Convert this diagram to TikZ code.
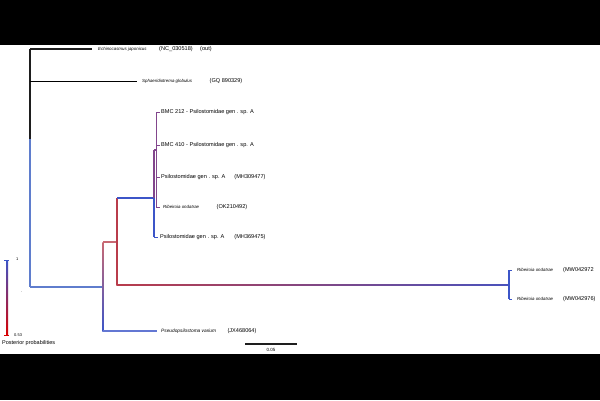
\documentclass[tikz,border=0pt]{standalone}
\usepackage{fontspec}
\setmainfont{Liberation Sans}
\usetikzlibrary{calc}
\definecolor{rootblue}{RGB}{95,125,205}
\definecolor{tblue}{RGB}{60,85,200}
\definecolor{tred}{RGB}{185,60,75}
\definecolor{tpink}{RGB}{200,105,115}
\definecolor{tpurple}{RGB}{130,70,140}
\definecolor{tblack}{RGB}{30,30,30}
\begin{document}
\begin{tikzpicture}[x=1pt,y=-1pt,
  br/.style={line width=1.2pt},
  tick/.style={line width=0.8pt},
  lab/.style={anchor=west,inner sep=0pt,font=\fontsize{5.6}{6}\selectfont},
  acc/.style={anchor=center,inner sep=0pt,font=\fontsize{5.6}{6}\selectfont},
  itl/.style={lab,font=\fontsize{4.4}{6}\selectfont\itshape},
  band/.style={fill=black,draw=none}]
\useasboundingbox (0,0) rectangle (600,400);
\fill[white] (0,0) rectangle (600,400);
\fill[band] (0,0) rectangle (600,45);
\fill[band] (0,354) rectangle (600,400);
% coordinates
\coordinate (rt) at (30,49);
\coordinate (rmid) at (30,139);
\coordinate (rb) at (30,287);
\coordinate (echi) at (92,49);
\coordinate (sphs) at (30,81);
\coordinate (sph) at (137,81);
\coordinate (A) at (103,287);
\coordinate (At) at (103,242);
\coordinate (Ab) at (103,331);
\coordinate (B) at (117,242);
\coordinate (Bt) at (117,198);
\coordinate (Bb) at (117,285);
\coordinate (Cl) at (117,198);
\coordinate (C) at (154,198);
\coordinate (Ct) at (154,150);
\coordinate (Cb) at (154,237);
\coordinate (D) at (156,150);
\coordinate (Dt) at (156,112);
\coordinate (Db) at (156,207);
\coordinate (E) at (509,285);
\coordinate (Et) at (509,270);
\coordinate (Eb) at (509,299);
\coordinate (pv) at (157,331);
% root
\draw[br,tblack] (rt) -- (rmid);
\draw[br,rootblue] (rmid) -- (rb);
\draw[br,tblack] (rt) -- (echi);
\draw[br,black,line width=0.9pt] (sphs) -- (sph);
\draw[br,rootblue] (rb) -- (A);
% node A
\shade[top color=tpink,bottom color=tblue] ($(At)+(-0.6,0)$) rectangle ($(Ab)+(0.6,0)$);
\draw[br,tpink] (At) -- (B);
\draw[br,tblue!80!white] (Ab) -- (pv);
% node B
\draw[br,tred] (Bt) -- (Bb);
\draw[br,tblue] (Cl) -- (C);
\shade[left color=tred,right color=tblue!80!tpurple] ($(Bb)+(-0.6,-0.6)$) rectangle ($(E)+(0,0.6)$);
% node C
\draw[br,tpurple] (Ct) -- (C);
\draw[br,tblue] (C) -- (Cb);
\draw[br,tpurple] (Ct) -- (D);
\draw[br,tpurple,line width=0.9pt] (Dt) -- (Db);
% node E
\draw[br,tblue] (Et) -- (Eb);
% tips
\coordinate (t1) at (160,112);
\coordinate (t1s) at (156,112);
\coordinate (t2) at (160,145);
\coordinate (t2s) at (156,145);
\coordinate (t3) at (160,177);
\coordinate (t3s) at (156,177);
\coordinate (t4) at (160,207);
\coordinate (t4s) at (156,207);
\coordinate (t5) at (158,237);
\coordinate (t6) at (512,270);
\coordinate (t7) at (512,299);
\draw[tick,tpurple] (t1s) -- (t1);
\draw[tick,tpurple] (t2s) -- (t2);
\draw[tick,tpurple] (t3s) -- (t3);
\draw[tick,tpurple] (t4s) -- (t4);
\draw[tick,tblue] (Cb) -- (t5);
\draw[tick,tblue] (Et) -- (t6);
\draw[tick,tblue] (Eb) -- (t7);
% labels
\node[itl] (l1a) at (98,49) {Echinocasmus japonicus};
\node[acc] (l1b) at (176,49) {(NC\_030518)};
\node[acc] (l1c) at (206,49) {(out)};
\node[itl] (l2a) at (142,81) {Sphaeridiotrema globulus};
\node[acc] (l2b) at (226,81) {(GQ 890329)};
\node[lab] (l3) at (161,112) {BMC 212 - Psilostomidae gen . sp. A};
\node[lab] (l4) at (161,145) {BMC 410 - Psilostomidae gen . sp. A};
\node[lab] (l5a) at (161,177) {Psilostomidae gen . sp. A};
\node[acc] (l5b) at (250,177) {(MH309477)};
\node[itl] (l6a) at (163,207) {Ribeiroia ondatrae};
\node[acc] (l6b) at (232,207) {(OK210492)};
\node[lab] (l7a) at (160,237) {Psilostomidae gen . sp. A};
\node[acc] (l7b) at (250,237) {(MH369475)};
\node[itl,font=\fontsize{4.8}{6}\selectfont\itshape] (l8a) at (161,331) {Pseudopsilostoma varium};
\node[acc] (l8b) at (242,331) {(JX468064)};
\node[itl] (l9a) at (517,270) {Ribeiroia ondatrae};
\node[lab] (l9b) at (563,270) {(MW042972};
\node[itl] (l10a) at (517,299) {Ribeiroia ondatrae};
\node[lab] (l10b) at (563,299) {(MW042976)};
% legend
\coordinate (cbt) at (7,260);
\coordinate (cbb) at (7,335);
\shade[top color=tblue,bottom color=red!85!black] ($(cbt)+(-1,0)$) rectangle ($(cbb)+(1,0)$);
\draw[line width=0.6pt,tblue] ($(cbt)+(-3,0)$) -- ($(cbt)+(2,0)$);
\draw[line width=0.6pt,red!85!black] ($(cbb)+(-3,0)$) -- ($(cbb)+(2,0)$);
\node[lab,font=\fontsize{4}{5}\selectfont] (lg1) at (16,259) {1};
\node[lab,font=\fontsize{4}{5}\selectfont] (lg2) at (14,335) {0.53};
\node[lab,font=\fontsize{4}{5}\selectfont] (lg3) at (21,292) {.};
\node[lab,font=\fontsize{5.5}{6}\selectfont] (lg4) at (2,343) {Posterior probabilities};
% scale bar
\coordinate (sb1) at (245,344);
\coordinate (sb2) at (297,344);
\draw[line width=1.2pt,tblack] (sb1) -- (sb2);
\node[acc,font=\fontsize{4.5}{5}\selectfont] (sbl) at (271,350) {0.05};
\end{tikzpicture}
\end{document}
